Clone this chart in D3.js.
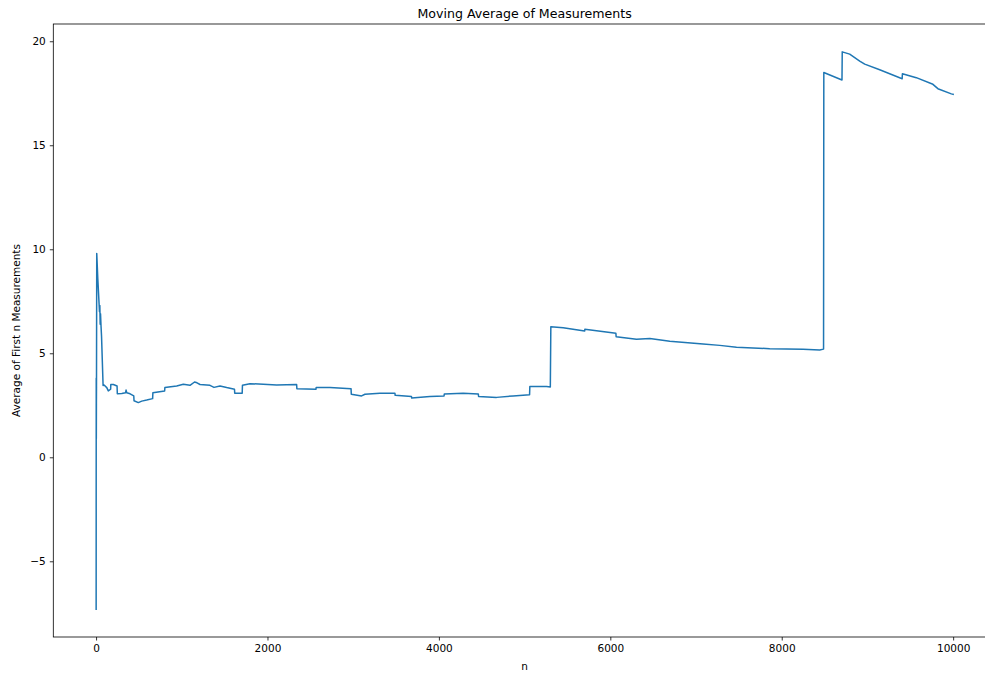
<!DOCTYPE html>
<html>
<head>
<meta charset="utf-8">
<script src="https://cdn.jsdelivr.net/npm/d3@7"></script>
<style>
  html, body { margin: 0; padding: 0; background: #fff; }
  svg { display: block; }
  text { font-family: "DejaVu Sans", sans-serif; fill: #000; }
</style>
</head>
<body>
<svg id="chart" width="985" height="673"></svg>
<script>
// ---- data ----
const titleText = "Moving Average of Measurements";
const xLabel = "n";
const yLabel = "Average of First n Measurements";
const xTicks = [0, 2000, 4000, 6000, 8000, 10000];
const yTicks = [-5, 0, 5, 10, 15, 20];

const nValues = [
  1, 2, 3, 4, 5, 8, 20, 35, 40, 44, 48, 52, 58, 64, 82,
  85, 105, 125, 143, 170, 172, 202, 245, 248, 300, 344, 350, 358, 397, 440,
  443, 493, 533, 591, 660, 663, 800, 803, 941, 1018, 1096, 1149, 1178, 1213,
  1329, 1376, 1446, 1524, 1615, 1618, 1705, 1708, 1796, 1951, 2107, 2340,
  2343, 2565, 2568, 2729, 2975, 2978, 3098, 3137, 3312, 3487, 3490, 3680,
  3683, 3895, 4060, 4063, 4283, 4460, 4463, 4673, 4866, 5058, 5061, 5256,
  5300, 5306, 5450, 5700, 5703, 6065, 6068, 6305, 6461, 6694, 7082, 7277,
  7472, 7860, 8248, 8443, 8488, 8491, 8703, 8706, 8793, 8910, 8968, 9143,
  9405, 9408, 9570, 9764, 9822, 9979, 10000
];
const avgValues = [
  -7.3, 3.8, 0.9, 2.6, 3.4, 9.8, 8.6, 7.4, 7.0, 7.3, 6.4, 6.9, 6.3, 5.8, 3.45,
  3.5, 3.43, 3.35, 3.19, 3.27, 3.5, 3.5, 3.43, 3.05, 3.07, 3.1, 3.23, 3.1, 3.05, 2.95,
  2.72, 2.63, 2.7, 2.75, 2.82, 3.1, 3.19, 3.35, 3.43, 3.51, 3.46, 3.62, 3.58, 3.5,
  3.46, 3.36, 3.43, 3.35, 3.27, 3.08, 3.08, 3.46, 3.54, 3.51, 3.48, 3.5,
  3.3, 3.27, 3.35, 3.35, 3.3, 3.03, 2.95, 3.03, 3.08, 3.08, 2.98, 2.92,
  2.85, 2.92, 2.95, 3.04, 3.08, 3.04, 2.92, 2.88, 2.95, 3.01, 3.40, 3.40,
  3.38, 6.28, 6.23, 6.07, 6.15, 5.96, 5.8, 5.67, 5.71, 5.58, 5.45, 5.38,
  5.29, 5.22, 5.19, 5.16, 5.2, 18.5, 18.14, 19.49, 19.38, 19.05, 18.9, 18.63,
  18.2, 18.44, 18.25, 17.93, 17.72, 17.47, 17.45
];

// ---- layout ----
const svg = d3.select("#chart");
const mLeft = 53.3, mTop = 24, mBottom = 637, mRight = 996;

const xMin = d3.min(nValues), xMax = d3.max(nValues);
const xPad = (xMax - xMin) * 0.05;
const yMin = d3.min(avgValues), yMax = d3.max(avgValues);
const yPad = (yMax - yMin) * 0.05;

const x = d3.scaleLinear().domain([xMin - xPad, xMax + xPad]).range([mLeft, mRight]);
const y = d3.scaleLinear().domain([yMin - yPad, yMax + yPad]).range([mBottom, mTop]);

const data = nValues.map((n, i) => ({ n, v: avgValues[i] }));

// line
svg.append("path")
  .datum(data)
  .attr("fill", "none")
  .attr("stroke", "#1f77b4")
  .attr("stroke-width", 1.5)
  .attr("stroke-linejoin", "round")
  .attr("stroke-linecap", "square")
  .attr("d", d3.line().x(d => x(d.n)).y(d => y(d.v)));

// axes
const fmtY = d => (d < 0 ? "\u2212" + Math.abs(d) : String(d));
const xAxis = d3.axisBottom(x).tickValues(xTicks).tickSize(3.5).tickPadding(4).tickFormat(d => String(d));
const yAxis = d3.axisLeft(y).tickValues(yTicks).tickSize(3.5).tickPadding(4).tickFormat(fmtY);

const gx = svg.append("g").attr("transform", `translate(0,${mBottom})`).call(xAxis);
const gy = svg.append("g").attr("transform", `translate(${mLeft},0)`).call(yAxis);
[gx, gy].forEach(g => {
  g.select(".domain").remove();
  g.selectAll(".tick line").attr("stroke", "#000").attr("stroke-width", 0.8);
  g.selectAll(".tick text").attr("font-size", "10.5px").attr("fill", "#000")
    .style("font-family", "'DejaVu Sans', sans-serif");
});

// spines
svg.append("rect")
  .attr("x", mLeft).attr("y", mTop)
  .attr("width", mRight - mLeft).attr("height", mBottom - mTop)
  .attr("fill", "none").attr("stroke", "#000").attr("stroke-width", 0.8);

// title and labels
svg.append("text")
  .attr("x", (mLeft + mRight) / 2).attr("y", 18)
  .attr("text-anchor", "middle").attr("font-size", "12.6px")
  .text(titleText);

svg.append("text")
  .attr("x", (mLeft + mRight) / 2).attr("y", 670)
  .attr("text-anchor", "middle").attr("font-size", "10.5px")
  .text(xLabel);

svg.append("text")
  .attr("transform", `translate(20,${(mTop + mBottom) / 2}) rotate(-90)`)
  .attr("text-anchor", "middle").attr("font-size", "10.5px")
  .text(yLabel);
</script>
</body>
</html>
